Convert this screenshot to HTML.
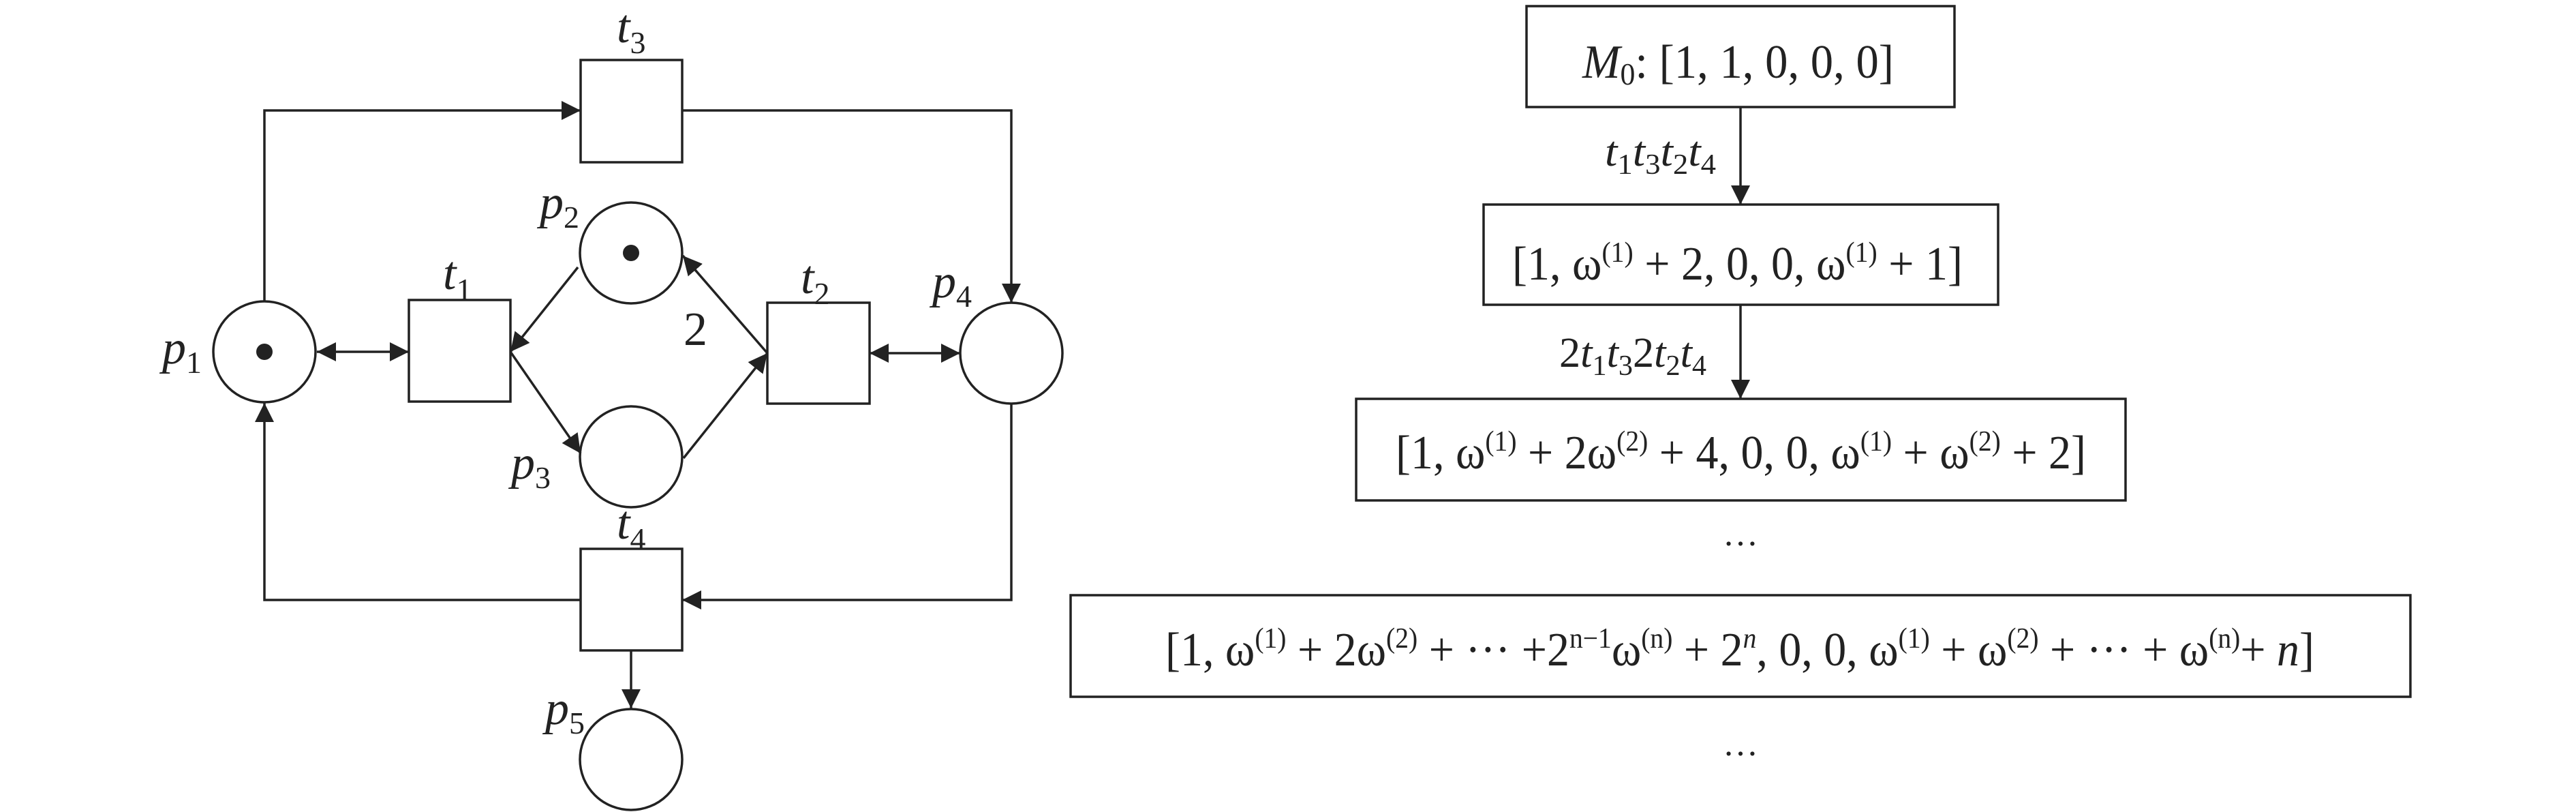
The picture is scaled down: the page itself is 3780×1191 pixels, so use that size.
<!DOCTYPE html>
<html><head><meta charset="utf-8"><style>
html,body{margin:0;padding:0;background:#fff}
svg{display:block}
text{font-family:"Liberation Serif",serif;fill:#222}
.i{font-style:italic}
</style></head><body>
<svg width="3780" height="1191" viewBox="0 0 3780 1191" xmlns="http://www.w3.org/2000/svg">
<defs>
<marker id="a" viewBox="0 0 10 10" refX="10" refY="5" markerWidth="28" markerHeight="28" markerUnits="userSpaceOnUse" orient="auto-start-reverse">
<path d="M0,0 L10,5 L0,10 z" fill="#222"/></marker>
</defs>
<g stroke="#222" stroke-width="3.5" fill="none">
<ellipse cx="388" cy="516" rx="75" ry="74"/>
<ellipse cx="926" cy="371" rx="75" ry="74"/>
<ellipse cx="926" cy="670" rx="75" ry="74"/>
<ellipse cx="1484" cy="518" rx="75" ry="74"/>
<ellipse cx="926" cy="1114" rx="75" ry="74"/>
<rect x="600" y="440" width="149" height="149"/>
<rect x="1126" y="444" width="150" height="148"/>
<rect x="852" y="88" width="149" height="150"/>
<rect x="852" y="805" width="149" height="149"/>
<path d="M465,516 L600,516" marker-start="url(#a)" marker-end="url(#a)"/>
<path d="M848,392 L749,516" marker-end="url(#a)"/>
<path d="M749,516 L852,665" marker-end="url(#a)"/>
<path d="M1003,672 L1126,518" marker-end="url(#a)"/>
<path d="M1126,518 L1002,375" marker-end="url(#a)"/>
<path d="M1276,518 L1409,518" marker-start="url(#a)" marker-end="url(#a)"/>
<path d="M388,441 L388,162 L852,162" marker-end="url(#a)"/>
<path d="M1001,162 L1484,162 L1484,444" marker-end="url(#a)"/>
<path d="M1484,593 L1484,880 L1001,880" marker-end="url(#a)"/>
<path d="M852,880 L388,880 L388,591" marker-end="url(#a)"/>
<path d="M926,954 L926,1039" marker-end="url(#a)"/>
<rect x="2240" y="9" width="628" height="148"/>
<rect x="2177" y="300" width="755" height="147"/>
<rect x="1990" y="585" width="1129" height="149"/>
<rect x="1571" y="873" width="1966" height="149"/>
<path d="M2554,157 L2554,300" marker-end="url(#a)"/>
<path d="M2554,447 L2554,585" marker-end="url(#a)"/>
</g>
<circle cx="388" cy="516" r="12" fill="#222"/>
<circle cx="926" cy="371" r="12" fill="#222"/>
<g font-size="70">
<text x="905" y="62" class="i">t<tspan font-size="46" dy="16" font-style="normal">3</tspan></text>
<text x="650" y="424" class="i">t<tspan font-size="46" dy="16" font-style="normal">1</tspan></text>
<text x="1175" y="430" class="i">t<tspan font-size="46" dy="16" font-style="normal">2</tspan></text>
<text x="905" y="790" class="i">t<tspan font-size="46" dy="16" font-style="normal">4</tspan></text>
<text x="238" y="533" class="i">p<tspan font-size="46" dy="14" font-style="normal">1</tspan></text>
<text x="792" y="320" class="i">p<tspan font-size="46" dy="14" font-style="normal">2</tspan></text>
<text x="750" y="702" class="i">p<tspan font-size="46" dy="14" font-style="normal">3</tspan></text>
<text x="1368" y="436" class="i">p<tspan font-size="46" dy="14" font-style="normal">4</tspan></text>
<text x="800" y="1062" class="i">p<tspan font-size="46" dy="14" font-style="normal">5</tspan></text>
<text x="1003" y="506">2</text>
</g>
<text x="2355" y="243" font-size="62" textLength="163" lengthAdjust="spacingAndGlyphs"><tspan class="i">t</tspan><tspan font-size="42" dy="12">1</tspan><tspan class="i" dy="-12">t</tspan><tspan font-size="42" dy="12">3</tspan><tspan class="i" dy="-12">t</tspan><tspan font-size="42" dy="12">2</tspan><tspan class="i" dy="-12">t</tspan><tspan font-size="42" dy="12">4</tspan></text>
<text x="2288" y="538" font-size="62" textLength="216" lengthAdjust="spacingAndGlyphs">2<tspan class="i">t</tspan><tspan font-size="42" dy="12">1</tspan><tspan class="i" dy="-12">t</tspan><tspan font-size="42" dy="12">3</tspan><tspan dy="-12">2</tspan><tspan class="i">t</tspan><tspan font-size="42" dy="12">2</tspan><tspan class="i" dy="-12">t</tspan><tspan font-size="42" dy="12">4</tspan></text>
<g font-size="70">
<text x="2322" y="114" textLength="457" lengthAdjust="spacingAndGlyphs"><tspan class="i">M</tspan><tspan font-size="46" dy="10">0</tspan><tspan dy="-10">: [1, 1, 0, 0, 0]</tspan></text>
<text x="2219" y="410" textLength="661" lengthAdjust="spacingAndGlyphs">[1, ω<tspan font-size="42" dy="-26">(1)</tspan><tspan dy="26"> + 2, 0, 0, ω</tspan><tspan font-size="42" dy="-26">(1)</tspan><tspan dy="26"> + 1]</tspan></text>
<text x="2048" y="687" textLength="1013" lengthAdjust="spacingAndGlyphs">[1, ω<tspan font-size="42" dy="-26">(1)</tspan><tspan dy="26"> + 2ω</tspan><tspan font-size="42" dy="-26">(2)</tspan><tspan dy="26"> + 4, 0, 0, ω</tspan><tspan font-size="42" dy="-26">(1)</tspan><tspan dy="26"> + ω</tspan><tspan font-size="42" dy="-26">(2)</tspan><tspan dy="26"> + 2]</tspan></text>
<text x="1710" y="976" textLength="1686" lengthAdjust="spacingAndGlyphs">[1, ω<tspan font-size="42" dy="-26">(1)</tspan><tspan dy="26"> + 2ω</tspan><tspan font-size="42" dy="-26">(2)</tspan><tspan dy="26"> + ··· +2</tspan><tspan font-size="42" dy="-26">n−1</tspan><tspan dy="26">ω</tspan><tspan font-size="42" dy="-26">(n)</tspan><tspan dy="26"> + 2</tspan><tspan font-size="42" dy="-26" class="i">n</tspan><tspan dy="26">, 0, 0, ω</tspan><tspan font-size="42" dy="-26">(1)</tspan><tspan dy="26"> + ω</tspan><tspan font-size="42" dy="-26">(2)</tspan><tspan dy="26"> + ··· + ω</tspan><tspan font-size="42" dy="-26">(n)</tspan><tspan dy="26">+ </tspan><tspan class="i">n</tspan>]</text>
<text x="2554" y="800" text-anchor="middle" font-size="52">…</text>
<text x="2554" y="1108" text-anchor="middle" font-size="52">…</text>
</g>
</svg>
</body></html>
